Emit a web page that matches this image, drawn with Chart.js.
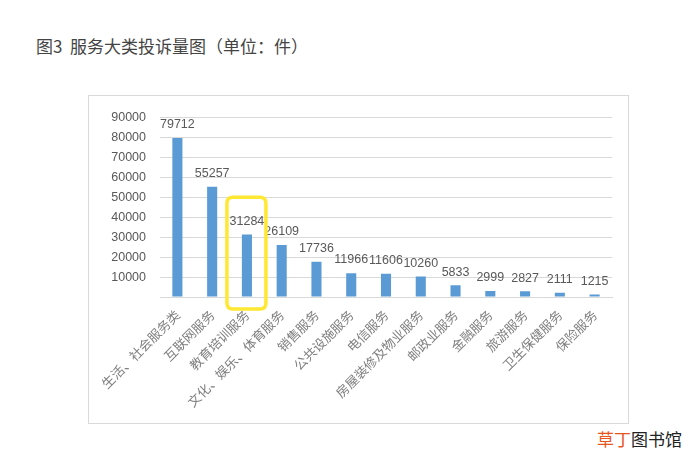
<!DOCTYPE html>
<html>
<head>
<meta charset="utf-8">
<script src="https://cdn.jsdelivr.net/npm/chart.js@4.4.0/dist/chart.umd.min.js"></script>
<style>
    body { margin: 0; background: #fff; width: 696px; height: 474px; position: relative; overflow: hidden; }
    #title { position: absolute; left: 36px; top: 33px; font: 17px "Noto Sans CJK SC", sans-serif; color: #444; white-space: pre; }
    #box { position: absolute; left: 88px; top: 95px; width: 539px; height: 327px; border: 1px solid #d9d9d9; }
    #mark { position: absolute; left: 597px; top: 426px; font: 17px "Noto Sans CJK SC", sans-serif; color: #222; }
    #mark span { color: #e8561e; }
</style>
</head>
<body>
<div id="title">图3  服务大类投诉量图（单位：件）</div>
<div id="box"><canvas id="initial_Chart_Display" width="539" height="327"></canvas></div>
<div id="mark"><span>草丁</span>图书馆</div>
<script>
// categories and values
var categories = ["生活、社会服务类", "互联网服务", "教育培训服务", "文化、娱乐、体育服务", "销售服务",
    "公共设施服务", "电信服务", "房屋装修及物业服务", "邮政业服务", "金融服务",
    "旅游服务", "卫生保健服务", "保险服务"];
var complaints = [79712, 55257, 31284, 26109, 17736, 11966, 11606, 10260, 5833, 2999, 2827, 2111, 1215];
var yTicks = [0, 10000, 20000, 30000, 40000, 50000, 60000, 70000, 80000, 90000];

var highlightIndex = 2;

//value labels above bars + yellow box around the highlighted bar
var labelPlugin = {
    id: "barLabels",
    afterDatasetsDraw: function (chart) {
        var ctx = chart.ctx;
        var meta = chart.getDatasetMeta(0);
        ctx.save();
        ctx.font = "12.5px 'Liberation Sans', sans-serif";
        ctx.fillStyle = "#595959";
        ctx.textAlign = "center";
        ctx.textBaseline = "bottom";
        for (var i = 0; i < meta.data.length; i++) {
            var bar = meta.data[i];
            ctx.fillText(String(complaints[i]), bar.x, bar.y - 7);
        }

        // highlight frame
        var xs = chart.scales.x, ys = chart.scales.y;
        var cx = xs.getPixelForValue(highlightIndex);
        var top = ys.getPixelForValue(50000);
        var bottom = ys.getPixelForValue(0) + 12;
        var left = cx - 20, right = cx + 19, r = 6;
        ctx.strokeStyle = "#ffe833";
        ctx.lineWidth = 3.5;
        ctx.beginPath();
        ctx.moveTo(left + r, top);
        ctx.lineTo(right - r, top);
        ctx.quadraticCurveTo(right, top, right, top + r);
        ctx.lineTo(right, bottom - r);
        ctx.quadraticCurveTo(right, bottom, right - r, bottom);
        ctx.lineTo(left + r, bottom);
        ctx.quadraticCurveTo(left, bottom, left, bottom - r);
        ctx.lineTo(left, top + r);
        ctx.quadraticCurveTo(left, top, left + r, top);
        ctx.stroke();
        ctx.restore();
    }
};

var ctxP = document.getElementById("initial_Chart_Display").getContext("2d");

var initial_Chart = new Chart(ctxP, {
    type: "bar",
    data: {
        labels: categories,
        datasets: [{
            data: complaints,
            backgroundColor: "#5b9bd5",
            barPercentage: 0.29,
            categoryPercentage: 1.0
        }]
    },
    options: {
        responsive: false,
        animation: false,
        layout: { padding: { top: 15, right: 16, left: 0, bottom: 0 } },
        plugins: {
            legend: { display: false },
            tooltip: { enabled: false }
        },
        scales: {
            x: {
                grid: { display: false, drawTicks: false },
                border: { display: true, color: "#d9d9d9", width: 1 },
                ticks: {
                    autoSkip: false,
                    minRotation: 45,
                    maxRotation: 45,
                    padding: 10,
                    color: "#7f7f7f",
                    font: { family: "'Noto Sans CJK SC', sans-serif", size: 13 }
                },
                afterFit: function (scale) { scale.height = 126; }
            },
            y: {
                min: 0,
                max: 90000,
                afterBuildTicks: function (scale) {
                    scale.ticks = yTicks.map(function (v) { return { value: v }; });
                },
                grid: { color: "#d9d9d9", drawTicks: false },
                border: { display: false },
                ticks: {
                    padding: 14,
                    color: "#595959",
                    font: { family: "'Liberation Sans', sans-serif", size: 12.5 },
                    callback: function (v) { return v === 0 ? "" : v; }
                },
                afterFit: function (scale) { scale.width = 71; }
            }
        }
    },
    plugins: [labelPlugin]
});
</script>
</body>
</html>
